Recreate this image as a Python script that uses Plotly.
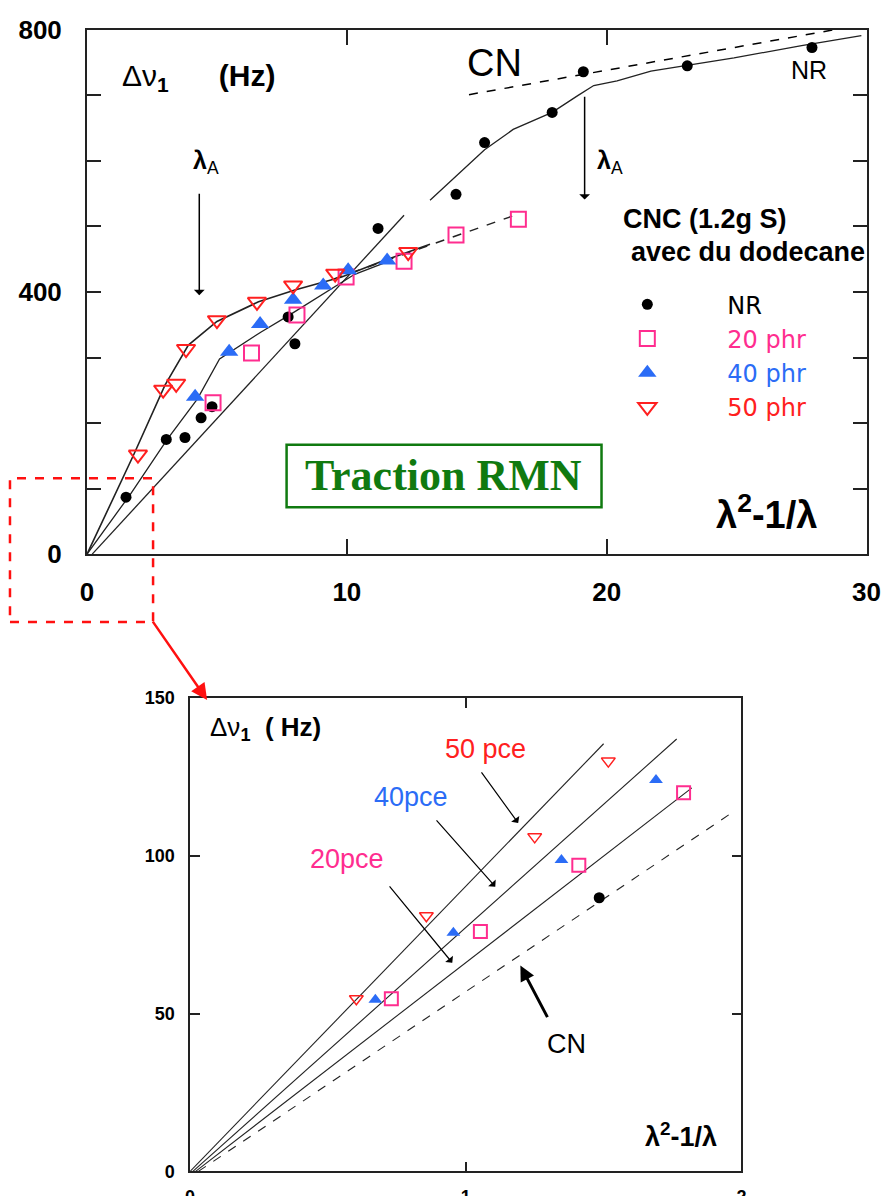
import plotly.graph_objects as go

# ---------------- Top chart data (lambda^2 - 1/lambda vs delta nu) ----------------
nr_x = [1.5, 3.05, 3.77, 4.39, 4.81, 7.74, 8.0, 11.2, 14.2, 15.3, 17.9, 19.1, 23.1, 27.9]
nr_y = [87, 175, 178, 208, 225, 362, 321, 497, 549, 628, 674, 736, 745, 773]

sq20_x = [4.85, 6.33, 8.08, 9.97, 12.2, 14.2, 16.6]
sq20_y = [231, 307, 365, 423, 447, 487, 511]

tri40_x = [4.16, 5.47, 6.66, 7.93, 9.09, 10.05, 11.55]
tri40_y = [240, 309, 351, 388, 410, 433, 448]

inv50_x = [1.96, 2.93, 3.43, 3.81, 5.0, 6.54, 7.93, 9.55, 12.36]
inv50_y = [152, 251, 260, 313, 357, 385, 410, 428, 461]

curve50_x = [0, 1.8, 3.0, 3.9, 5.0, 6.6, 8.0, 9.8, 11.3, 13.2]
curve50_y = [0, 152, 258, 319, 355, 385, 403, 423, 446, 473]

curve40_x = [0, 1.66, 3.1, 4.25, 5.1, 6.7, 7.8, 9.0, 10.3, 11.5]
curve40_y = [0, 91, 176, 237, 298, 339, 365, 395, 427, 445]

linenr_x = [0.2, 12.2]
linenr_y = [0, 517]

dash20_x = [9.5, 16.6]
dash20_y = [420, 519]

curvenr_x = [13.2, 15.3, 16.4, 17.9, 18.9, 19.5, 20.4, 21.7, 24.9, 27.5, 29.8]
curvenr_y = [540, 617, 648, 674, 700, 715, 722, 737, 757, 776, 791]

cn_x = [14.7, 30.3]
cn_y = [701, 811]

top_xticks = [0, 10, 20, 30]
top_yticks = [0, 100, 200, 300, 400, 500, 600, 700, 800]
top_ylabels = ["0", "", "", "", "400", "", "", "", "800"]

# ---------------- Bottom (zoom) chart data ----------------
b_inv50_x = [0.603, 0.857, 1.25, 1.517]
b_inv50_y = [54.7, 81, 106, 130]
b_tri40_x = [0.672, 0.955, 1.347, 1.69]
b_tri40_y = [54.4, 75.6, 98.7, 124]
b_sq20_x = [0.730, 1.053, 1.41, 1.79]
b_sq20_y = [54.7, 76, 97, 120]
b_nr_x = [1.484]
b_nr_y = [86.7]

b_l50_x = [0.0, 1.5]
b_l50_y = [0, 135.5]
b_l40_x = [0.01, 1.765]
b_l40_y = [0, 137]
b_l20_x = [0.02, 1.82]
b_l20_y = [0, 121.5]
b_cn_x = [0.03, 1.98]
b_cn_y = [0, 114.5]

bot_xticks = [0, 1, 2]
bot_yticks = [0, 50, 100, 150]

PINK = "#ff2d8f"
BLUE = "#2b6cf6"
RED = "#ff2020"
GREEN = "#107a10"
FONT = "Liberation Sans, Arial, sans-serif"

fig = go.Figure()

def line(x, y, xa, ya, dash="solid", width=1.3, color="#222"):
    fig.add_trace(go.Scatter(x=x, y=y, mode="lines", xaxis=xa, yaxis=ya,
                             line=dict(color=color, width=width, dash=dash),
                             showlegend=False, hoverinfo="skip"))

# ---- top chart lines ----
line(curve50_x, curve50_y, "x", "y", width=1.6)
line(curve40_x, curve40_y, "x", "y")
line(linenr_x, linenr_y, "x", "y")
line(dash20_x, dash20_y, "x", "y", dash="dash", width=1.5)
line(curvenr_x, curvenr_y, "x", "y")
line(cn_x, cn_y, "x", "y", dash="dash", width=1.5, color="#000")

# ---- top chart markers (with legend) ----
fig.add_trace(go.Scatter(x=nr_x, y=nr_y, mode="markers", name="NR", legendgroup="a",
                         marker=dict(symbol="circle", size=11, color="#000")))
fig.add_trace(go.Scatter(x=sq20_x, y=sq20_y, mode="markers",
                         name='<span style="color:%s">20 phr</span>' % PINK, legendgroup="b",
                         marker=dict(symbol="square-open", size=15, color=PINK, line=dict(width=2))))
fig.add_trace(go.Scatter(x=tri40_x, y=tri40_y, mode="markers",
                         name='<span style="color:%s">40 phr</span>' % BLUE, legendgroup="c",
                         marker=dict(symbol="triangle-up", size=16, color=BLUE)))
fig.add_trace(go.Scatter(x=inv50_x, y=inv50_y, mode="markers",
                         name='<span style="color:%s">50 phr</span>' % RED, legendgroup="d",
                         marker=dict(symbol="triangle-down-open", size=16, color=RED, line=dict(width=2))))

# ---- bottom chart lines ----
line(b_l50_x, b_l50_y, "x2", "y2", width=1.1)
line(b_l40_x, b_l40_y, "x2", "y2", width=1.1)
line(b_l20_x, b_l20_y, "x2", "y2", width=1.1)
line(b_cn_x, b_cn_y, "x2", "y2", dash="dash", width=1.1)

# ---- bottom chart markers ----
fig.add_trace(go.Scatter(x=b_nr_x, y=b_nr_y, mode="markers", xaxis="x2", yaxis="y2", showlegend=False,
                         marker=dict(symbol="circle", size=11, color="#000")))
fig.add_trace(go.Scatter(x=b_sq20_x, y=b_sq20_y, mode="markers", xaxis="x2", yaxis="y2", showlegend=False,
                         marker=dict(symbol="square-open", size=13, color=PINK, line=dict(width=2))))
fig.add_trace(go.Scatter(x=b_tri40_x, y=b_tri40_y, mode="markers", xaxis="x2", yaxis="y2", showlegend=False,
                         marker=dict(symbol="triangle-up", size=12, color=BLUE)))
fig.add_trace(go.Scatter(x=b_inv50_x, y=b_inv50_y, mode="markers", xaxis="x2", yaxis="y2", showlegend=False,
                         marker=dict(symbol="triangle-down-open", size=12, color=RED, line=dict(width=1.5))))

# Page pixels are photographed with a slight zoom-out and offset; compensate
W, H = 900, 1215
SX, OX, SY, OY = 0.976, 7.2, 0.9765, 13.5
def fx(x):
    return x / SX - OX
def fy(y):
    return y / SY - OY
def px(x):
    return fx(x) / W
def py(y):
    return 1 - fy(y) / H

axis_common = dict(showgrid=False, zeroline=False, showline=True, mirror="ticks",
                   ticks="inside", tickcolor="#222", linecolor="#222")

LEG_W = 150
fig.update_layout(
    width=W, height=H, margin=dict(l=0, r=0, t=0, b=0),
    paper_bgcolor="white", plot_bgcolor="white",
    font=dict(family=FONT, color="#000"),
    xaxis=dict(domain=[px(87), px(866)], range=[0, 30], anchor="y",
               tickvals=top_xticks, ticklen=15, tickwidth=2, linewidth=2,
               tickfont=dict(size=26, weight="bold"), ticklabelstandoff=14, **axis_common),
    yaxis=dict(domain=[py(553), py(28)], range=[0, 800], anchor="x",
               tickvals=top_yticks, ticktext=top_ylabels, ticklen=14, tickwidth=2, linewidth=2,
               tickfont=dict(size=26, weight="bold"), ticklabelstandoff=18, **axis_common),
    xaxis2=dict(domain=[px(190), px(741)], range=[0, 2], anchor="y2",
                tickvals=bot_xticks, ticklen=10, tickwidth=1.5, linewidth=1.5,
                tickfont=dict(size=18, weight="bold"), ticklabelstandoff=8, **axis_common),
    yaxis2=dict(domain=[py(1171), py(697)], range=[0, 150], anchor="x2",
                tickvals=bot_yticks, ticklen=10, tickwidth=1.5, linewidth=1.5,
                tickfont=dict(size=18, weight="bold"), ticklabelstandoff=10, **axis_common),
    legend=dict(x=(fx(647) - (LEG_W / 2 + 7)) / W, y=1 - 274 / H, xanchor="left", yanchor="top",
                bgcolor="rgba(0,0,0,0)", font=dict(size=24, family="DejaVu Sans, sans-serif"),
                itemwidth=LEG_W, tracegroupgap=0),
)

ann = []
def text(t, x, y, xr="x", yr="y", size=20, color="#000", xanchor="center", family=FONT, **kw):
    ann.append(dict(text=t, x=x, y=y, xref=xr, yref=yr, showarrow=False, xanchor=xanchor,
                    font=dict(size=size, color=color, family=family), **kw))

def arrow(x, y, ax, ay, xr="x", yr="y", color="#000", width=1.3, head=1, size=1.2):
    ann.append(dict(text="", x=x, y=y, ax=ax, ay=ay, xref=xr, yref=yr, axref=xr, ayref=yr,
                    showarrow=True, arrowhead=head, arrowsize=size, arrowwidth=width,
                    arrowcolor=color))

# ---- top chart annotations ----
text("Δν<sub><b>1</b></sub>      <b>(Hz)</b>", 1.27, 727, size=30, xanchor="left")
text("<b>λ</b><sub>A</sub>", 4.0, 598, size=25, xanchor="left")
arrow(4.32, 395, 4.32, 552, width=1.5)
text("CN", 15.7, 750, size=38)
text("NR", 27.8, 738, size=25)
text("<b>λ</b><sub>A</sub>", 19.55, 598, size=25, xanchor="left")
arrow(19.15, 541, 19.15, 700, width=1.5)
text("<b>CNC (1.2g S)</b>", 20.55, 511, size=27, xanchor="left")
text("<b>avec du dodecane</b>", 20.85, 461, size=27, xanchor="left")
text("<b>λ<sup>2</sup>-1/λ</b>", 26.15, 65, size=38)
text("<b>Traction RMN</b>", 13.7, 120, size=44, color=GREEN, family="Liberation Serif, Times New Roman, serif")

# ---- bottom chart annotations ----
text("Δν<sub><b>1</b></sub>  <b>( Hz)</b>", 0.065, 140.2, xr="x2", yr="y2", size=26, xanchor="left")
text("50 pce", 1.071, 133.9, xr="x2", yr="y2", size=27, color=RED)
text("40pce", 0.802, 118.7, xr="x2", yr="y2", size=27, color=BLUE)
text("20pce", 0.570, 99, xr="x2", yr="y2", size=27, color=PINK)
text("CN", 1.365, 40.5, xr="x2", yr="y2", size=27)
text("<b>λ<sup>2</sup>-1/λ</b>", 1.78, 11.4, xr="x2", yr="y2", size=27)
arrow(1.19, 110.4, 1.053, 126.9, xr="x2", yr="y2", width=1.2, head=1, size=1.4)
arrow(1.107, 90.2, 0.889, 111.7, xr="x2", yr="y2", width=1.2, head=1, size=1.4)
arrow(0.951, 66.1, 0.719, 90.8, xr="x2", yr="y2", width=1.2, head=1, size=1.4)
arrow(1.198, 65.2, 1.299, 48.4, xr="x2", yr="y2", width=3, head=2, size=1.0)

# ---- red zoom indicator arrow (paper coords) ----
ann.append(dict(text="", x=px(207), y=py(699), xref="paper", yref="paper",
                ax=(153 - 207) / SX, ay=(621 - 699) / SY, axref="pixel", ayref="pixel",
                showarrow=True, arrowhead=2, arrowsize=1.3, arrowwidth=2.5, arrowcolor="#ff1010"))

fig.update_layout(annotations=ann)

fig.update_layout(shapes=[
    dict(type="rect", xref="x", yref="y", x0=7.68, x1=19.8, y0=71.5, y1=167,
         line=dict(color=GREEN, width=2.5), fillcolor="rgba(0,0,0,0)"),
    dict(type="rect", xref="paper", yref="paper", x0=px(10), x1=px(153), y0=py(621), y1=py(477),
         line=dict(color="#ff1010", width=2.5, dash="dash"), fillcolor="rgba(0,0,0,0)"),
])

fig.write_html(
    "out.html",
    config={"displayModeBar": False},
    post_script="document.body.style.margin='0';document.body.style.overflow='hidden';"
                "document.documentElement.style.overflow='hidden';",
)
